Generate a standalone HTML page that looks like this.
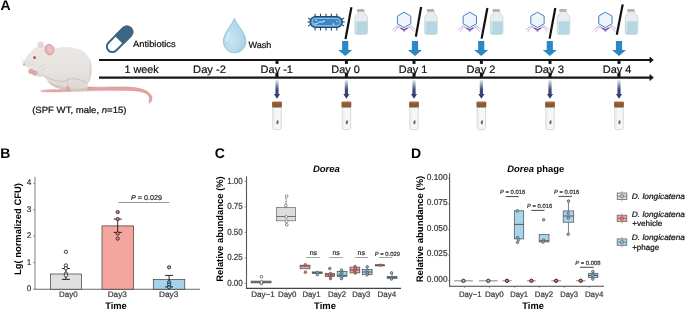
<!DOCTYPE html>
<html><head><meta charset="utf-8"><style>
html,body{margin:0;padding:0;background:#fff;}
svg{display:block;font-family:"Liberation Sans", sans-serif;text-rendering:geometricPrecision;will-change:transform;}
</style></head><body>
<svg width="685" height="309" viewBox="0 0 685 309">
<rect width="685" height="309" fill="#fff"/>
<text x="0.4" y="10.1" font-size="14" text-anchor="start" font-weight="bold" font-style="normal" fill="#000" >A</text>

<defs><linearGradient id="mb" gradientUnits="userSpaceOnUse" x1="0" y1="46" x2="0" y2="92"><stop offset="0" stop-color="#ebe8e6"/><stop offset="0.55" stop-color="#e6e2df"/><stop offset="1" stop-color="#dcd6d1"/></linearGradient></defs>
<g id="mouse">
 <path d="M86.5 87.0 C100 87.4 112 86.9 126 87.0 C140 87.3 150 90.5 151.8 96.8 C152.3 99.8 151.2 102.2 149.4 103.3 C148.6 102.6 149.6 100.2 149.4 97.6 C148.6 93.4 142 90.6 128 90.5 C114 90.2 100 90.3 86.5 90.8 Z" fill="#e2a3a1" stroke="#d08c8a" stroke-width="0.5"/>
 <path d="M23.3 63.8 C24.5 59 28 54 33 49.5 C35 47.8 37 46.5 39 46 L44 45.5 C48 44.5 53 45.5 56.5 48.3 C62 46.5 72 46.2 80 49.5 C88 53 92 62 91.6 71 C91.3 77 89.5 81 87.5 83.5 C88 86 87.5 89.5 85.5 91.2 L70 91.8 L62.5 89.2 C56 88 51 86 49 83 C46.5 79.5 44 76.5 42 75.5 C40 77 37 77 35.5 75.5 L34 72 C31 69 27.5 67.5 25 66.2 C23.8 65.6 23.1 64.8 23.3 63.8 Z" fill="url(#mb)"/>
 <path d="M89.6 57.5 C92 64 92.3 74 89.8 80 C89 81.8 88.3 82.8 87.5 83.5 C89.2 78 90.2 68 89.6 57.5 Z" fill="#d9d3cf"/>
 <path d="M48 81 C50 85.5 56 88 62.5 89.2 L70 91.8 L85.5 91.2 C86.6 90.2 87.3 88.8 87.8 86.8 C84 88.6 76 89.2 70.5 88.6 C64 86.6 54 85.2 48 81 Z" fill="#cfc8c2"/>
 <path d="M41 74.6 C46 77.5 53 80.5 60 81.3 C63 81.6 65.5 81.2 66.8 79.8 M66.8 79.8 C67.2 82.6 67.8 85.2 69 87.4 M66.8 79.8 C72 77.8 80 78.6 87.5 83.5" stroke="#cbc3bd" stroke-width="1" fill="none"/>
 <path d="M66.3 86.2 C67.8 85.8 69.2 86.8 69.8 88.2 L70.4 91.2 L66 90 Z" fill="#e2a3a1"/>
 <path d="M41 90.6 C44 89.4 58 89.2 66 89.5 L70.4 89.9 L70.6 91.6 C60 92.2 48 92 42 91.8 C40.8 91.6 40.6 91 41 90.6 Z" fill="#e3a8a6" stroke="#d39593" stroke-width="0.3"/>
 <path d="M38.5 67.5 C41 66.8 43.5 65.5 46.5 63.8 M40.2 69.8 C42.5 70.2 44.8 69.2 46.8 67.4" stroke="#d2cbc5" stroke-width="0.6" fill="none"/>
 <path d="M36 70 C39 70.5 42 72.5 44 75.5 C42.5 77.2 39 77.3 36.5 75.8 Z" fill="#e0dbd7"/>
 <ellipse cx="31" cy="71.4" rx="2.5" ry="2.3" fill="#e3a6a5" stroke="#d09190" stroke-width="0.4"/>
 <ellipse cx="34.6" cy="73.1" rx="2.5" ry="2.3" fill="#e3a6a5" stroke="#d09190" stroke-width="0.4"/>
 <ellipse cx="40.6" cy="44.6" rx="2.9" ry="2.7" fill="#e0dbd7" stroke="#cbc4be" stroke-width="0.5"/>
 <ellipse cx="49.4" cy="49.6" rx="4.4" ry="5.4" transform="rotate(-15 49.4 49.6)" fill="#e2b0af" stroke="#d5a09f" stroke-width="0.8"/>
 <ellipse cx="50" cy="49.4" rx="2.6" ry="3.6" transform="rotate(-15 50 49.4)" fill="#e9c0bf"/>
 <circle cx="34.6" cy="57.6" r="1.3" fill="#c8323a"/>
 <ellipse cx="24" cy="64.4" rx="1.2" ry="1.1" fill="#e2a2a2"/>
 <path d="M25 61 L20.6 57 M25 62 L20.6 59.5 M25.3 63 L21 61.8 M27 63.2 L35 62.4 M27 64.4 L36 65.4" stroke="#d0cbc7" stroke-width="0.35" fill="none"/>
</g>
<text x="32.2" y="113" font-size="9" text-anchor="start" font-weight="normal" font-style="normal" fill="#111" stroke="#111" stroke-width="0.22" textLength="94.3" lengthAdjust="spacingAndGlyphs" >(SPF WT, male, <tspan font-style="italic">n</tspan>=15)</text>
<g transform="translate(119.6 39.3) rotate(-45)">
 <path d="M-10.3 -5.5 H10.3 A5.5 5.5 0 0 1 10.3 5.5 H-10.3 A5.5 5.5 0 0 1 -10.3 -5.5 Z" fill="#fff" stroke="#3d6585" stroke-width="2"/>
 <path d="M0 -5.5 H10.3 A5.5 5.5 0 0 1 10.3 5.5 H0 Z" fill="#3d6585" stroke="#3d6585" stroke-width="2"/>
</g>
<text x="133" y="47.4" font-size="9" text-anchor="start" font-weight="normal" font-style="normal" fill="#111" stroke="#111" stroke-width="0.22" textLength="42.7" lengthAdjust="spacingAndGlyphs" >Antibiotics</text>
<defs>
 <radialGradient id="dg" cx="0.38" cy="0.62" r="0.6"><stop offset="0" stop-color="#c9e5f2"/><stop offset="1" stop-color="#a9d3e8"/></radialGradient>
 <linearGradient id="navy" x1="0" y1="0" x2="0" y2="1"><stop offset="0" stop-color="#34427a" stop-opacity="0.12"/><stop offset="0.5" stop-color="#2f3d72" stop-opacity="0.92"/><stop offset="1" stop-color="#2c3a6c"/></linearGradient>
</defs>
<path d="M234.4 18.3 C237 25.5 245.9 32.5 245.9 41.6 A11.25 11.25 0 0 1 223.4 41.6 C223.4 32.5 231.8 25.5 234.4 18.3 Z" fill="url(#dg)" stroke="#85bcd7" stroke-width="0.8"/>
<path d="M226.3 41 C226.3 36.5 228.5 32.5 231.2 29.5 C229.8 33 228 37 227.8 41 Z" fill="#e4f2f9" opacity="0.9"/>
<path d="M243.5 43.5 C243 48 239.5 51 235 51.5 C239.5 50 242 47 243.5 43.5 Z" fill="#9fcbe0" opacity="0.8"/>
<text x="248.4" y="47.7" font-size="9" text-anchor="start" font-weight="normal" font-style="normal" fill="#111" stroke="#111" stroke-width="0.22" textLength="22.9" lengthAdjust="spacingAndGlyphs" >Wash</text>
<line x1="99" y1="60.0" x2="651" y2="60.0" stroke="#161616" stroke-width="2.1"/>
<path d="M649.9 57.0 L653.4 60.0 L649.9 63.0 Z" fill="#161616" stroke="#161616" stroke-width="0.6" stroke-linejoin="round"/>
<line x1="99" y1="77.6" x2="651" y2="77.6" stroke="#161616" stroke-width="2.1"/>
<path d="M649.9 74.6 L653.4 77.6 L649.9 80.6 Z" fill="#161616" stroke="#161616" stroke-width="0.6" stroke-linejoin="round"/>
<text x="124.5" y="73" font-size="10.8" text-anchor="start" font-weight="normal" font-style="normal" fill="#111" stroke="#111" stroke-width="0.22" textLength="34.2" lengthAdjust="spacingAndGlyphs" >1 week</text>
<text x="193.1" y="73" font-size="10.8" text-anchor="start" font-weight="normal" font-style="normal" fill="#111" stroke="#111" stroke-width="0.22" textLength="32.8" lengthAdjust="spacingAndGlyphs" >Day -2</text>
<text x="260.6" y="73" font-size="10.8" text-anchor="start" font-weight="normal" font-style="normal" fill="#111" stroke="#111" stroke-width="0.22" textLength="32.4" lengthAdjust="spacingAndGlyphs" >Day -1</text>
<text x="331.3" y="73" font-size="10.8" text-anchor="start" font-weight="normal" font-style="normal" fill="#111" stroke="#111" stroke-width="0.22" textLength="28.4" lengthAdjust="spacingAndGlyphs" >Day 0</text>
<text x="398.8" y="73" font-size="10.8" text-anchor="start" font-weight="normal" font-style="normal" fill="#111" stroke="#111" stroke-width="0.22" textLength="28.4" lengthAdjust="spacingAndGlyphs" >Day 1</text>
<text x="466.6" y="73" font-size="10.8" text-anchor="start" font-weight="normal" font-style="normal" fill="#111" stroke="#111" stroke-width="0.22" textLength="28.9" lengthAdjust="spacingAndGlyphs" >Day 2</text>
<text x="534.7" y="73" font-size="10.8" text-anchor="start" font-weight="normal" font-style="normal" fill="#111" stroke="#111" stroke-width="0.22" textLength="29.2" lengthAdjust="spacingAndGlyphs" >Day 3</text>
<text x="602.8" y="73" font-size="10.8" text-anchor="start" font-weight="normal" font-style="normal" fill="#111" stroke="#111" stroke-width="0.22" textLength="28.6" lengthAdjust="spacingAndGlyphs" >Day 4</text>
<rect x="275.5" y="60.5" width="3" height="3.4" fill="#161616"/>
<rect x="275.5" y="72.6" width="3" height="4.5" fill="#161616"/>
<path d="M275.4 80 H278.6 V93.9 H280.1 L277.0 98.7 L273.9 93.9 H275.4 Z" fill="url(#navy)"/>
<path d="M272.8 107 V127.6 Q272.8 129.6 274.8 129.6 H279.2 Q281.2 129.6 281.2 127.6 V107 Z" fill="#f5f7f8" stroke="#c4cbd0" stroke-width="0.7"/>
<line x1="274.4" y1="109" x2="274.4" y2="127" stroke="#e6eaec" stroke-width="0.7"/>
<rect x="272.1" y="101.8" width="9.8" height="5.8" rx="1.1" fill="#8b5a34"/>
<rect x="272.1" y="101.8" width="9.8" height="1.5" rx="0.7" fill="#9c6a43"/>
<ellipse cx="277.5" cy="122.3" rx="1.05" ry="2.1" transform="rotate(12 277.5 122.3)" fill="#8a5a3b"/>
<rect x="344.9" y="60.5" width="3" height="3.4" fill="#161616"/>
<rect x="344.9" y="72.6" width="3" height="4.5" fill="#161616"/>
<path d="M344.79999999999995 80 H348.0 V93.9 H349.5 L346.4 98.7 L343.29999999999995 93.9 H344.79999999999995 Z" fill="url(#navy)"/>
<path d="M342.2 107 V127.6 Q342.2 129.6 344.2 129.6 H348.6 Q350.6 129.6 350.6 127.6 V107 Z" fill="#f5f7f8" stroke="#c4cbd0" stroke-width="0.7"/>
<line x1="343.8" y1="109" x2="343.8" y2="127" stroke="#e6eaec" stroke-width="0.7"/>
<rect x="341.5" y="101.8" width="9.8" height="5.8" rx="1.1" fill="#8b5a34"/>
<rect x="341.5" y="101.8" width="9.8" height="1.5" rx="0.7" fill="#9c6a43"/>
<ellipse cx="346.9" cy="122.3" rx="1.05" ry="2.1" transform="rotate(12 346.9 122.3)" fill="#8a5a3b"/>
<rect x="412.5" y="60.5" width="3" height="3.4" fill="#161616"/>
<rect x="412.5" y="72.6" width="3" height="4.5" fill="#161616"/>
<path d="M412.4 80 H415.6 V93.9 H417.1 L414.0 98.7 L410.9 93.9 H412.4 Z" fill="url(#navy)"/>
<path d="M409.8 107 V127.6 Q409.8 129.6 411.8 129.6 H416.2 Q418.2 129.6 418.2 127.6 V107 Z" fill="#f5f7f8" stroke="#c4cbd0" stroke-width="0.7"/>
<line x1="411.4" y1="109" x2="411.4" y2="127" stroke="#e6eaec" stroke-width="0.7"/>
<rect x="409.1" y="101.8" width="9.8" height="5.8" rx="1.1" fill="#8b5a34"/>
<rect x="409.1" y="101.8" width="9.8" height="1.5" rx="0.7" fill="#9c6a43"/>
<ellipse cx="414.5" cy="122.3" rx="1.05" ry="2.1" transform="rotate(12 414.5 122.3)" fill="#8a5a3b"/>
<rect x="479.9" y="60.5" width="3" height="3.4" fill="#161616"/>
<rect x="479.9" y="72.6" width="3" height="4.5" fill="#161616"/>
<path d="M479.79999999999995 80 H483.0 V93.9 H484.5 L481.4 98.7 L478.29999999999995 93.9 H479.79999999999995 Z" fill="url(#navy)"/>
<path d="M477.2 107 V127.6 Q477.2 129.6 479.2 129.6 H483.6 Q485.6 129.6 485.6 127.6 V107 Z" fill="#f5f7f8" stroke="#c4cbd0" stroke-width="0.7"/>
<line x1="478.8" y1="109" x2="478.8" y2="127" stroke="#e6eaec" stroke-width="0.7"/>
<rect x="476.5" y="101.8" width="9.8" height="5.8" rx="1.1" fill="#8b5a34"/>
<rect x="476.5" y="101.8" width="9.8" height="1.5" rx="0.7" fill="#9c6a43"/>
<ellipse cx="481.9" cy="122.3" rx="1.05" ry="2.1" transform="rotate(12 481.9 122.3)" fill="#8a5a3b"/>
<rect x="548.5" y="60.5" width="3" height="3.4" fill="#161616"/>
<rect x="548.5" y="72.6" width="3" height="4.5" fill="#161616"/>
<path d="M548.4 80 H551.6 V93.9 H553.1 L550.0 98.7 L546.9 93.9 H548.4 Z" fill="url(#navy)"/>
<path d="M545.8 107 V127.6 Q545.8 129.6 547.8 129.6 H552.2 Q554.2 129.6 554.2 127.6 V107 Z" fill="#f5f7f8" stroke="#c4cbd0" stroke-width="0.7"/>
<line x1="547.4" y1="109" x2="547.4" y2="127" stroke="#e6eaec" stroke-width="0.7"/>
<rect x="545.1" y="101.8" width="9.8" height="5.8" rx="1.1" fill="#8b5a34"/>
<rect x="545.1" y="101.8" width="9.8" height="1.5" rx="0.7" fill="#9c6a43"/>
<ellipse cx="550.5" cy="122.3" rx="1.05" ry="2.1" transform="rotate(12 550.5 122.3)" fill="#8a5a3b"/>
<rect x="617.5" y="60.5" width="3" height="3.4" fill="#161616"/>
<rect x="617.5" y="72.6" width="3" height="4.5" fill="#161616"/>
<path d="M617.4 80 H620.6 V93.9 H622.1 L619.0 98.7 L615.9 93.9 H617.4 Z" fill="url(#navy)"/>
<path d="M614.8 107 V127.6 Q614.8 129.6 616.8 129.6 H621.2 Q623.2 129.6 623.2 127.6 V107 Z" fill="#f5f7f8" stroke="#c4cbd0" stroke-width="0.7"/>
<line x1="616.4" y1="109" x2="616.4" y2="127" stroke="#e6eaec" stroke-width="0.7"/>
<rect x="614.1" y="101.8" width="9.8" height="5.8" rx="1.1" fill="#8b5a34"/>
<rect x="614.1" y="101.8" width="9.8" height="1.5" rx="0.7" fill="#9c6a43"/>
<ellipse cx="619.5" cy="122.3" rx="1.05" ry="2.1" transform="rotate(12 619.5 122.3)" fill="#8a5a3b"/>
<path d="M342.1 41 H348.3 V50.1 H352.2 L345.2 55.9 L338.2 50.1 H342.1 Z" fill="#2c87c7"/>
<line x1="351.4" y1="7.3" x2="345.5" y2="39.1" stroke="#111" stroke-width="2.2"/>
<g>
 <path d="M357.8 11.4 V14 Q354.9 14.8 354.9 17.6 V32.6 Q354.9 34.5 356.8 34.5 H365.6 Q367.5 34.5 367.5 32.6 V17.6 Q367.5 14.8 364.6 14 V11.4 Z" fill="#e9edef" stroke="#c3cacf" stroke-width="0.6"/>
 <path d="M355.2 21.3 H367.2 V32.6 Q367.2 34.2 365.6 34.2 H356.8 Q355.2 34.2 355.2 32.6 Z" fill="#b4d8e2"/>
 <line x1="356.2" y1="18" x2="356.2" y2="32" stroke="#f4f7f8" stroke-width="0.6" opacity="0.8"/>
 <rect x="357.0" y="9.1" width="7.3" height="2.7" rx="0.8" fill="#b0b3b5"/>
</g>
<path d="M411.9 41 H418.1 V50.1 H422.0 L415.0 55.9 L408.0 50.1 H411.9 Z" fill="#2c87c7"/>
<line x1="421.1" y1="7.0" x2="415.9" y2="36.6" stroke="#111" stroke-width="2.2"/>
<g>
 <path d="M427.6 11.4 V14 Q424.7 14.8 424.7 17.6 V32.6 Q424.7 34.5 426.6 34.5 H435.4 Q437.3 34.5 437.3 32.6 V17.6 Q437.3 14.8 434.4 14 V11.4 Z" fill="#e9edef" stroke="#c3cacf" stroke-width="0.6"/>
 <path d="M425.0 21.3 H437.0 V32.6 Q437.0 34.2 435.4 34.2 H426.6 Q425.0 34.2 425.0 32.6 Z" fill="#b4d8e2"/>
 <line x1="426.0" y1="18" x2="426.0" y2="32" stroke="#f4f7f8" stroke-width="0.6" opacity="0.8"/>
 <rect x="426.8" y="9.1" width="7.3" height="2.7" rx="0.8" fill="#b0b3b5"/>
</g>
<g>
 <path d="M402.6 28.9 L397.5 25.6 L392.3 30.0 M402.6 29.5 L397.8 26.9 L394.3 31.9 M405.6 28.9 L410.7 25.6 L415.9 30.0 M405.6 29.5 L410.4 26.9 L413.9 31.9" stroke="#b39ad0" stroke-width="0.7" fill="none"/>
 <path d="M402.5 29.9 L405.7 29.9 L404.1 32.4 Z" fill="#86a6dc"/>
 <path d="M404.1 12.2 L410.77 16.05 L410.77 23.75 L404.1 27.6 L397.43 23.75 L397.43 16.05 Z" fill="#eef4fb" stroke="#3d78c6" stroke-width="0.95"/>
 <path d="M400.8 28.1 L404.1 29.8 L407.4 28.1" stroke="#8a3a9f" stroke-width="1.4" fill="none"/>
</g>
<path d="M478.1 41 H484.3 V50.1 H488.2 L481.2 55.9 L474.2 50.1 H478.1 Z" fill="#2c87c7"/>
<line x1="487.4" y1="8.0" x2="481.6" y2="38.6" stroke="#111" stroke-width="2.2"/>
<g>
 <path d="M493.3 11.4 V14 Q490.4 14.8 490.4 17.6 V32.6 Q490.4 34.5 492.3 34.5 H501.1 Q503.0 34.5 503.0 32.6 V17.6 Q503.0 14.8 500.1 14 V11.4 Z" fill="#e9edef" stroke="#c3cacf" stroke-width="0.6"/>
 <path d="M490.7 21.3 H502.7 V32.6 Q502.7 34.2 501.1 34.2 H492.3 Q490.7 34.2 490.7 32.6 Z" fill="#b4d8e2"/>
 <line x1="491.7" y1="18" x2="491.7" y2="32" stroke="#f4f7f8" stroke-width="0.6" opacity="0.8"/>
 <rect x="492.5" y="9.1" width="7.3" height="2.7" rx="0.8" fill="#b0b3b5"/>
</g>
<g>
 <path d="M468.3 28.9 L463.2 25.6 L458.0 30.0 M468.3 29.5 L463.5 26.9 L460.0 31.9 M471.3 28.9 L476.4 25.6 L481.6 30.0 M471.3 29.5 L476.1 26.9 L479.6 31.9" stroke="#b39ad0" stroke-width="0.7" fill="none"/>
 <path d="M468.2 29.9 L471.4 29.9 L469.8 32.4 Z" fill="#86a6dc"/>
 <path d="M469.8 12.2 L476.47 16.05 L476.47 23.75 L469.8 27.6 L463.13 23.75 L463.13 16.05 Z" fill="#eef4fb" stroke="#3d78c6" stroke-width="0.95"/>
 <path d="M466.5 28.1 L469.8 29.8 L473.1 28.1" stroke="#8a3a9f" stroke-width="1.4" fill="none"/>
</g>
<path d="M546.7 41 H552.9 V50.1 H556.8 L549.8 55.9 L542.8 50.1 H546.7 Z" fill="#2c87c7"/>
<line x1="555.3" y1="8.0" x2="549.6" y2="38.6" stroke="#111" stroke-width="2.2"/>
<g>
 <path d="M560.1 11.4 V14 Q557.2 14.8 557.2 17.6 V32.6 Q557.2 34.5 559.1 34.5 H567.9 Q569.8 34.5 569.8 32.6 V17.6 Q569.8 14.8 566.9 14 V11.4 Z" fill="#e9edef" stroke="#c3cacf" stroke-width="0.6"/>
 <path d="M557.5 21.3 H569.5 V32.6 Q569.5 34.2 567.9 34.2 H559.1 Q557.5 34.2 557.5 32.6 Z" fill="#b4d8e2"/>
 <line x1="558.5" y1="18" x2="558.5" y2="32" stroke="#f4f7f8" stroke-width="0.6" opacity="0.8"/>
 <rect x="559.3" y="9.1" width="7.3" height="2.7" rx="0.8" fill="#b0b3b5"/>
</g>
<g>
 <path d="M536.0 28.9 L530.9 25.6 L525.7 30.0 M536.0 29.5 L531.2 26.9 L527.7 31.9 M539.0 28.9 L544.1 25.6 L549.3 30.0 M539.0 29.5 L543.8 26.9 L547.3 31.9" stroke="#b39ad0" stroke-width="0.7" fill="none"/>
 <path d="M535.9 29.9 L539.1 29.9 L537.5 32.4 Z" fill="#86a6dc"/>
 <path d="M537.5 12.2 L544.17 16.05 L544.17 23.75 L537.5 27.6 L530.83 23.75 L530.83 16.05 Z" fill="#eef4fb" stroke="#3d78c6" stroke-width="0.95"/>
 <path d="M534.2 28.1 L537.5 29.8 L540.8 28.1" stroke="#8a3a9f" stroke-width="1.4" fill="none"/>
</g>
<path d="M615.9 41 H622.1 V50.1 H626.0 L619.0 55.9 L612.0 50.1 H615.9 Z" fill="#2c87c7"/>
<line x1="622.7" y1="4.4" x2="616.8" y2="34.7" stroke="#111" stroke-width="2.2"/>
<g>
 <path d="M628.1 11.4 V14 Q625.2 14.8 625.2 17.6 V32.6 Q625.2 34.5 627.1 34.5 H635.9 Q637.8 34.5 637.8 32.6 V17.6 Q637.8 14.8 634.9 14 V11.4 Z" fill="#e9edef" stroke="#c3cacf" stroke-width="0.6"/>
 <path d="M625.5 21.3 H637.5 V32.6 Q637.5 34.2 635.9 34.2 H627.1 Q625.5 34.2 625.5 32.6 Z" fill="#b4d8e2"/>
 <line x1="626.5" y1="18" x2="626.5" y2="32" stroke="#f4f7f8" stroke-width="0.6" opacity="0.8"/>
 <rect x="627.3" y="9.1" width="7.3" height="2.7" rx="0.8" fill="#b0b3b5"/>
</g>
<g>
 <path d="M603.9 28.9 L598.8 25.6 L593.6 30.0 M603.9 29.5 L599.1 26.9 L595.6 31.9 M606.9 28.9 L612.0 25.6 L617.2 30.0 M606.9 29.5 L611.7 26.9 L615.2 31.9" stroke="#b39ad0" stroke-width="0.7" fill="none"/>
 <path d="M603.8 29.9 L607.0 29.9 L605.4 32.4 Z" fill="#86a6dc"/>
 <path d="M605.4 12.2 L612.07 16.05 L612.07 23.75 L605.4 27.6 L598.73 23.75 L598.73 16.05 Z" fill="#eef4fb" stroke="#3d78c6" stroke-width="0.95"/>
 <path d="M602.1 28.1 L605.4 29.8 L608.7 28.1" stroke="#8a3a9f" stroke-width="1.4" fill="none"/>
</g>
<g>
 <g stroke="#1f4a6e" stroke-width="1.1">
  <path d="M315.1 13.8 V17 M320.5 13.8 V17 M326 13.8 V17 M331.4 13.8 V17 M336.8 13.8 V17"/>
  <path d="M315.1 27 V30.4 M320.5 27 V30.4 M326 27 V30.4 M331.4 27 V30.4 M336.8 27 V30.4"/>
  <path d="M307.5 22 H310.5 M308.2 18 L310.8 19.6 M308.2 26 L310.8 24.4 M341.8 22 H344.8 M344.1 18 L341.5 19.6 M344.1 26 L341.5 24.4"/>
 </g>
 <rect x="310" y="16.6" width="32.3" height="10.9" rx="5.45" fill="#3a87c6" stroke="#1f4a6e" stroke-width="1.2"/>
 <rect x="312" y="18.4" width="28.3" height="7.3" rx="3.65" fill="none" stroke="#dbeaf5" stroke-width="0.6"/>
 <path d="M313.5 23.2 C315 24.8 317 24 318.5 22.5 C320 21 321.5 22.8 323 21.8 C324 21.2 324.3 20.8 325 20.6" stroke="#fff" stroke-width="0.9" fill="none"/>
 <circle cx="316.3" cy="20.3" r="0.7" fill="#fff"/>
 <circle cx="333.5" cy="24" r="0.85" fill="#fff"/>
 <circle cx="337" cy="21.3" r="0.65" fill="#fff"/>
</g>
<text x="0.2" y="158.0" font-size="14" text-anchor="start" font-weight="bold" font-style="normal" fill="#000" >B</text>
<line x1="35" y1="176.8" x2="35" y2="289.4" stroke="#8a8a8a" stroke-width="1.1"/>
<line x1="34.5" y1="289.2" x2="200" y2="289.2" stroke="#6a6a6a" stroke-width="1.1"/>
<text x="31.3" y="185.3" font-size="8.2" text-anchor="end" font-weight="normal" font-style="normal" fill="#3a3a3a" stroke="#3a3a3a" stroke-width="0.22" >4</text>
<line x1="33" y1="183.3" x2="35" y2="183.3" stroke="#666" stroke-width="0.6"/>
<text x="31.3" y="211.8" font-size="8.2" text-anchor="end" font-weight="normal" font-style="normal" fill="#3a3a3a" stroke="#3a3a3a" stroke-width="0.22" >3</text>
<line x1="33" y1="209.8" x2="35" y2="209.8" stroke="#666" stroke-width="0.6"/>
<text x="31.3" y="238.2" font-size="8.2" text-anchor="end" font-weight="normal" font-style="normal" fill="#3a3a3a" stroke="#3a3a3a" stroke-width="0.22" >2</text>
<line x1="33" y1="236.2" x2="35" y2="236.2" stroke="#666" stroke-width="0.6"/>
<text x="31.3" y="264.7" font-size="8.2" text-anchor="end" font-weight="normal" font-style="normal" fill="#3a3a3a" stroke="#3a3a3a" stroke-width="0.22" >1</text>
<line x1="33" y1="262.7" x2="35" y2="262.7" stroke="#666" stroke-width="0.6"/>
<text x="31.3" y="291.2" font-size="8.2" text-anchor="end" font-weight="normal" font-style="normal" fill="#3a3a3a" stroke="#3a3a3a" stroke-width="0.22" >0</text>
<line x1="33" y1="289.2" x2="35" y2="289.2" stroke="#666" stroke-width="0.6"/>
<text transform="translate(20.5 229.1) rotate(-90)" text-anchor="middle" font-size="9.4" font-weight="bold" textLength="92" lengthAdjust="spacingAndGlyphs">Lg( normalized CFU)</text>
<rect x="50.4" y="274.0" width="31.1" height="15.2" fill="#e0e0e0" stroke="#3a3a3a" stroke-width="0.7"/>
<rect x="102" y="225.9" width="31.5" height="63.3" fill="#f4a59d" stroke="#3a3a3a" stroke-width="0.7"/>
<rect x="153.3" y="279.6" width="31.5" height="9.6" fill="#a7d3ea" stroke="#3a3a3a" stroke-width="0.7"/>
<path d="M65.9 268.5 V279.4 M61.900000000000006 268.5 H69.9 M61.900000000000006 279.4 H69.9" stroke="#111" stroke-width="0.9" fill="none"/>
<path d="M117.7 219.1 V232.4 M113.7 219.1 H121.7 M113.7 232.4 H121.7" stroke="#111" stroke-width="0.9" fill="none"/>
<path d="M169.1 275.4 V286.9 M165.1 275.4 H173.1 M165.1 286.9 H173.1" stroke="#111" stroke-width="0.9" fill="none"/>
<circle cx="65.9" cy="251.8" r="1.65" fill="#fff" stroke="#262626" stroke-width="0.85"/>
<circle cx="65.9" cy="265.4" r="1.65" fill="#fff" stroke="#262626" stroke-width="0.85"/>
<circle cx="65.9" cy="268.3" r="1.65" fill="#fff" stroke="#262626" stroke-width="0.85"/>
<circle cx="65.9" cy="273.6" r="1.65" fill="#fff" stroke="#262626" stroke-width="0.85"/>
<circle cx="65.9" cy="275.4" r="1.65" fill="#fff" stroke="#262626" stroke-width="0.85"/>
<circle cx="117.7" cy="212.1" r="1.65" fill="#e8817a" stroke="#262626" stroke-width="0.85"/>
<circle cx="117.7" cy="219.1" r="1.65" fill="#e8817a" stroke="#262626" stroke-width="0.85"/>
<circle cx="117.7" cy="233.5" r="1.65" fill="#e8817a" stroke="#262626" stroke-width="0.85"/>
<circle cx="117.7" cy="238.6" r="1.65" fill="#e8817a" stroke="#262626" stroke-width="0.85"/>
<circle cx="169.1" cy="267.3" r="1.65" fill="#7dbfe2" stroke="#262626" stroke-width="0.85"/>
<circle cx="169.1" cy="282.3" r="1.65" fill="#7dbfe2" stroke="#262626" stroke-width="0.85"/>
<circle cx="169.1" cy="284.6" r="1.65" fill="#7dbfe2" stroke="#262626" stroke-width="0.85"/>
<circle cx="169.1" cy="287.3" r="1.65" fill="#7dbfe2" stroke="#262626" stroke-width="0.85"/>
<line x1="118.4" y1="202.5" x2="169.3" y2="202.5" stroke="#8a8a8a" stroke-width="0.9"/>
<text x="131" y="200.4" font-size="7" text-anchor="start" font-weight="normal" font-style="normal" fill="#333" stroke="#333" stroke-width="0.22" textLength="31" lengthAdjust="spacingAndGlyphs" ><tspan font-style="italic">P</tspan> = 0.029</text>
<text x="59.1" y="297" font-size="8" text-anchor="start" font-weight="normal" font-style="normal" fill="#3a3a3a" stroke="#3a3a3a" stroke-width="0.22" textLength="18.5" lengthAdjust="spacingAndGlyphs" >Day0</text>
<text x="107.7" y="297" font-size="8" text-anchor="start" font-weight="normal" font-style="normal" fill="#3a3a3a" stroke="#3a3a3a" stroke-width="0.22" textLength="19.2" lengthAdjust="spacingAndGlyphs" >Day3</text>
<text x="159" y="297" font-size="8" text-anchor="start" font-weight="normal" font-style="normal" fill="#3a3a3a" stroke="#3a3a3a" stroke-width="0.22" textLength="19.3" lengthAdjust="spacingAndGlyphs" >Day3</text>
<text x="105.2" y="309.2" font-size="9.6" text-anchor="start" font-weight="bold" font-style="normal" fill="#000" textLength="21.5" lengthAdjust="spacingAndGlyphs" >Time</text>
<text x="214.8" y="158.3" font-size="14" text-anchor="start" font-weight="bold" font-style="normal" fill="#000" >C</text>
<text x="312.9" y="171.6" font-size="9.5" text-anchor="start" font-weight="bold" font-style="italic" fill="#000" textLength="27.0" lengthAdjust="spacingAndGlyphs" >Dorea</text>
<line x1="246.5" y1="176.3" x2="246.5" y2="288.9" stroke="#555" stroke-width="1.1"/>
<line x1="246" y1="288.4" x2="401" y2="288.4" stroke="#444" stroke-width="1.1"/>
<text x="227.2" y="183.7" font-size="8.8" text-anchor="start" font-weight="normal" font-style="normal" fill="#3a3a3a" stroke="#3a3a3a" stroke-width="0.22" textLength="15.6" lengthAdjust="spacingAndGlyphs" >1.00</text>
<line x1="244.6" y1="181.5" x2="246" y2="181.5" stroke="#555" stroke-width="0.6"/>
<text x="227.2" y="209.2" font-size="8.8" text-anchor="start" font-weight="normal" font-style="normal" fill="#3a3a3a" stroke="#3a3a3a" stroke-width="0.22" textLength="15.6" lengthAdjust="spacingAndGlyphs" >0.75</text>
<line x1="244.6" y1="207.0" x2="246" y2="207.0" stroke="#555" stroke-width="0.6"/>
<text x="227.2" y="234.6" font-size="8.8" text-anchor="start" font-weight="normal" font-style="normal" fill="#3a3a3a" stroke="#3a3a3a" stroke-width="0.22" textLength="15.6" lengthAdjust="spacingAndGlyphs" >0.50</text>
<line x1="244.6" y1="232.4" x2="246" y2="232.4" stroke="#555" stroke-width="0.6"/>
<text x="227.2" y="260.1" font-size="8.8" text-anchor="start" font-weight="normal" font-style="normal" fill="#3a3a3a" stroke="#3a3a3a" stroke-width="0.22" textLength="15.6" lengthAdjust="spacingAndGlyphs" >0.25</text>
<line x1="244.6" y1="257.9" x2="246" y2="257.9" stroke="#555" stroke-width="0.6"/>
<text x="227.2" y="285.6" font-size="8.8" text-anchor="start" font-weight="normal" font-style="normal" fill="#3a3a3a" stroke="#3a3a3a" stroke-width="0.22" textLength="15.6" lengthAdjust="spacingAndGlyphs" >0.00</text>
<line x1="244.6" y1="283.4" x2="246" y2="283.4" stroke="#555" stroke-width="0.6"/>
<text transform="translate(223.3 229) rotate(-90)" text-anchor="middle" font-size="9.5" font-weight="bold" textLength="105.5" lengthAdjust="spacingAndGlyphs">Relative abundance (%)</text>
<line x1="261.4" y1="288.2" x2="261.4" y2="290" stroke="#666" stroke-width="0.6"/>
<line x1="286.3" y1="288.2" x2="286.3" y2="290" stroke="#666" stroke-width="0.6"/>
<line x1="311.2" y1="288.2" x2="311.2" y2="290" stroke="#666" stroke-width="0.6"/>
<line x1="336.1" y1="288.2" x2="336.1" y2="290" stroke="#666" stroke-width="0.6"/>
<line x1="361" y1="288.2" x2="361" y2="290" stroke="#666" stroke-width="0.6"/>
<line x1="385.9" y1="288.2" x2="385.9" y2="290" stroke="#666" stroke-width="0.6"/>
<text x="251.2" y="296.8" font-size="8" text-anchor="start" font-weight="normal" font-style="normal" fill="#3a3a3a" stroke="#3a3a3a" stroke-width="0.22" textLength="23.5" lengthAdjust="spacingAndGlyphs" >Day−1</text>
<text x="278" y="296.8" font-size="8" text-anchor="start" font-weight="normal" font-style="normal" fill="#3a3a3a" stroke="#3a3a3a" stroke-width="0.22" textLength="18.5" lengthAdjust="spacingAndGlyphs" >Day0</text>
<text x="302.5" y="296.8" font-size="8" text-anchor="start" font-weight="normal" font-style="normal" fill="#3a3a3a" stroke="#3a3a3a" stroke-width="0.22" textLength="18.0" lengthAdjust="spacingAndGlyphs" >Day1</text>
<text x="327.9" y="296.8" font-size="8" text-anchor="start" font-weight="normal" font-style="normal" fill="#3a3a3a" stroke="#3a3a3a" stroke-width="0.22" textLength="18.2" lengthAdjust="spacingAndGlyphs" >Day2</text>
<text x="352.2" y="296.8" font-size="8" text-anchor="start" font-weight="normal" font-style="normal" fill="#3a3a3a" stroke="#3a3a3a" stroke-width="0.22" textLength="18.2" lengthAdjust="spacingAndGlyphs" >Day3</text>
<text x="377.6" y="296.8" font-size="8" text-anchor="start" font-weight="normal" font-style="normal" fill="#3a3a3a" stroke="#3a3a3a" stroke-width="0.22" textLength="18.5" lengthAdjust="spacingAndGlyphs" >Day4</text>
<text x="314.1" y="309.2" font-size="9.6" text-anchor="start" font-weight="bold" font-style="normal" fill="#000" textLength="21.8" lengthAdjust="spacingAndGlyphs" >Time</text>
<path d="M261.10 282.8 V281.2 M261.10 282.8 V281.2" stroke="#555" stroke-width="0.9" fill="none"/>
<rect x="251.2" y="281.2" width="19.80" height="1.60" fill="#dcdcdc" stroke="#555" stroke-width="0.9"/>
<line x1="251.2" y1="282" x2="271" y2="282" stroke="#555" stroke-width="1.17"/>
<circle cx="261.4" cy="276.7" r="1.4" fill="#fff" stroke="#555" stroke-width="0.8"/>
<circle cx="261.4" cy="283.7" r="1.4" fill="#fff" stroke="#555" stroke-width="0.8"/>
<circle cx="261.4" cy="282" r="1.4" fill="#fff" stroke="#555" stroke-width="0.8"/>
<path d="M286.05 196.5 V207.5 M286.05 220.8 V224.7" stroke="#666" stroke-width="0.7" fill="none"/>
<rect x="276.5" y="207.5" width="19.10" height="13.30" fill="#dcdcdc" stroke="#666" stroke-width="0.7"/>
<line x1="276.5" y1="216.5" x2="295.6" y2="216.5" stroke="#666" stroke-width="0.91"/>
<circle cx="286.6" cy="196.2" r="1.35" fill="#fff" stroke="#666" stroke-width="0.7"/>
<circle cx="285.8" cy="205.5" r="1.35" fill="#fff" stroke="#666" stroke-width="0.7"/>
<circle cx="286.2" cy="216.9" r="1.35" fill="#fff" stroke="#666" stroke-width="0.7"/>
<circle cx="286.6" cy="221.3" r="1.35" fill="#fff" stroke="#666" stroke-width="0.7"/>
<circle cx="286.8" cy="224.9" r="1.35" fill="#fff" stroke="#666" stroke-width="0.7"/>
<path d="M305.05 265.2 V265.2 M305.05 268.8 V268.8" stroke="#4a4a4a" stroke-width="0.7" fill="none"/>
<rect x="300.1" y="265.2" width="9.90" height="3.60" fill="#f4a49c" stroke="#4a4a4a" stroke-width="0.7"/>
<line x1="300.1" y1="266.1" x2="310" y2="266.1" stroke="#4a4a4a" stroke-width="0.91"/>
<circle cx="305.4" cy="264.8" r="1.3" fill="#ee6e63" stroke="#555" stroke-width="0.75"/>
<circle cx="305.4" cy="272.2" r="1.3" fill="#ee6e63" stroke="#555" stroke-width="0.75"/>
<path d="M317.20 271.5 V271.9 M317.20 273.6 V274" stroke="#4a4a4a" stroke-width="0.7" fill="none"/>
<rect x="312.2" y="271.9" width="10.00" height="1.70" fill="#a9d5ec" stroke="#4a4a4a" stroke-width="0.7"/>
<line x1="312.2" y1="272.6" x2="322.2" y2="272.6" stroke="#4a4a4a" stroke-width="0.91"/>
<circle cx="317.4" cy="272.5" r="1.3" fill="#78c3ea" stroke="#555" stroke-width="0.75"/>
<circle cx="317.4" cy="274.6" r="1.3" fill="#78c3ea" stroke="#555" stroke-width="0.75"/>
<path d="M329.90 273.3 V273.3 M329.90 276.5 V278.8" stroke="#4a4a4a" stroke-width="0.7" fill="none"/>
<rect x="325.2" y="273.3" width="9.40" height="3.20" fill="#f4a49c" stroke="#4a4a4a" stroke-width="0.7"/>
<line x1="325.2" y1="274.8" x2="334.6" y2="274.8" stroke="#4a4a4a" stroke-width="0.91"/>
<circle cx="329.8" cy="268.5" r="1.3" fill="#ee6e63" stroke="#555" stroke-width="0.75"/>
<circle cx="330.5" cy="273.5" r="1.3" fill="#ee6e63" stroke="#555" stroke-width="0.75"/>
<circle cx="331" cy="276" r="1.3" fill="#ee6e63" stroke="#555" stroke-width="0.75"/>
<circle cx="330.5" cy="278.6" r="1.3" fill="#ee6e63" stroke="#555" stroke-width="0.75"/>
<circle cx="329.5" cy="275" r="1.3" fill="#ee6e63" stroke="#555" stroke-width="0.75"/>
<path d="M342.05 270 V271.4 M342.05 276.5 V279.3" stroke="#4a4a4a" stroke-width="0.7" fill="none"/>
<rect x="337.2" y="271.4" width="9.70" height="5.10" fill="#a9d5ec" stroke="#4a4a4a" stroke-width="0.7"/>
<line x1="337.2" y1="275.3" x2="346.9" y2="275.3" stroke="#4a4a4a" stroke-width="0.91"/>
<circle cx="341.5" cy="270.2" r="1.3" fill="#78c3ea" stroke="#555" stroke-width="0.75"/>
<circle cx="342" cy="272.5" r="1.3" fill="#78c3ea" stroke="#555" stroke-width="0.75"/>
<circle cx="341" cy="274" r="1.3" fill="#78c3ea" stroke="#555" stroke-width="0.75"/>
<circle cx="342" cy="276.5" r="1.3" fill="#78c3ea" stroke="#555" stroke-width="0.75"/>
<circle cx="341.5" cy="278.6" r="1.3" fill="#78c3ea" stroke="#555" stroke-width="0.75"/>
<path d="M354.90 266.3 V267.1 M354.90 272.9 V273.5" stroke="#4a4a4a" stroke-width="0.7" fill="none"/>
<rect x="350" y="267.1" width="9.80" height="5.80" fill="#f4a49c" stroke="#4a4a4a" stroke-width="0.7"/>
<line x1="350" y1="269.9" x2="359.8" y2="269.9" stroke="#4a4a4a" stroke-width="0.91"/>
<circle cx="355" cy="266.6" r="1.3" fill="#ee6e63" stroke="#555" stroke-width="0.75"/>
<circle cx="355.5" cy="268.8" r="1.3" fill="#ee6e63" stroke="#555" stroke-width="0.75"/>
<circle cx="354.5" cy="271" r="1.3" fill="#ee6e63" stroke="#555" stroke-width="0.75"/>
<circle cx="355.3" cy="273" r="1.3" fill="#ee6e63" stroke="#555" stroke-width="0.75"/>
<path d="M367.20 266.9 V269.4 M367.20 274.7 V275.2" stroke="#4a4a4a" stroke-width="0.7" fill="none"/>
<rect x="362.3" y="269.4" width="9.80" height="5.30" fill="#a9d5ec" stroke="#4a4a4a" stroke-width="0.7"/>
<line x1="362.3" y1="272" x2="372.1" y2="272" stroke="#4a4a4a" stroke-width="0.91"/>
<circle cx="367.2" cy="266.8" r="1.3" fill="#78c3ea" stroke="#555" stroke-width="0.75"/>
<circle cx="367" cy="270.5" r="1.3" fill="#78c3ea" stroke="#555" stroke-width="0.75"/>
<circle cx="367.5" cy="273" r="1.3" fill="#78c3ea" stroke="#555" stroke-width="0.75"/>
<circle cx="367" cy="274.8" r="1.3" fill="#78c3ea" stroke="#555" stroke-width="0.75"/>
<path d="M379.90 264.7 V264.7 M379.90 265.9 V265.9" stroke="#4a4a4a" stroke-width="0.7" fill="none"/>
<rect x="375.3" y="264.7" width="9.20" height="1.20" fill="#f4a49c" stroke="#4a4a4a" stroke-width="0.7"/>
<line x1="375.3" y1="265.3" x2="384.5" y2="265.3" stroke="#4a4a4a" stroke-width="0.91"/>
<circle cx="380.5" cy="265.2" r="1.3" fill="#ee6e63" stroke="#555" stroke-width="0.75"/>
<path d="M392.10 273 V276.4 M392.10 278.4 V279.2" stroke="#4a4a4a" stroke-width="0.7" fill="none"/>
<rect x="387.2" y="276.4" width="9.80" height="2.00" fill="#a9d5ec" stroke="#4a4a4a" stroke-width="0.7"/>
<line x1="387.2" y1="277.4" x2="397" y2="277.4" stroke="#4a4a4a" stroke-width="0.91"/>
<circle cx="391.5" cy="272.9" r="1.3" fill="#78c3ea" stroke="#555" stroke-width="0.75"/>
<circle cx="391.5" cy="279" r="1.3" fill="#78c3ea" stroke="#555" stroke-width="0.75"/>
<line x1="306.1" y1="257.5" x2="319.9" y2="257.5" stroke="#9c9c9c" stroke-width="0.9"/>
<line x1="329.3" y1="257.5" x2="342.9" y2="257.5" stroke="#9c9c9c" stroke-width="0.9"/>
<line x1="354.8" y1="257.5" x2="368.1" y2="257.5" stroke="#9c9c9c" stroke-width="0.9"/>
<line x1="378.8" y1="257.5" x2="392.2" y2="257.5" stroke="#9c9c9c" stroke-width="0.9"/>
<text x="313.4" y="255.4" font-size="7" text-anchor="middle" font-weight="normal" font-style="normal" fill="#333" stroke="#333" stroke-width="0.22" >ns</text>
<text x="336.1" y="255.4" font-size="7" text-anchor="middle" font-weight="normal" font-style="normal" fill="#333" stroke="#333" stroke-width="0.22" >ns</text>
<text x="361.2" y="255.4" font-size="7" text-anchor="middle" font-weight="normal" font-style="normal" fill="#333" stroke="#333" stroke-width="0.22" >ns</text>
<text x="374.8" y="255.7" font-size="6" text-anchor="start" font-weight="normal" font-style="normal" fill="#333" stroke="#333" stroke-width="0.22" textLength="25.2" lengthAdjust="spacingAndGlyphs" ><tspan font-style="italic">P</tspan> = 0.029</text>
<text x="411.1" y="158.3" font-size="14" text-anchor="start" font-weight="bold" font-style="normal" fill="#000" >D</text>
<text x="507.3" y="171.9" font-size="9.4" text-anchor="start" font-weight="bold" font-style="normal" fill="#000" textLength="56.9" lengthAdjust="spacingAndGlyphs" ><tspan font-style="italic">Dorea</tspan> phage</text>
<line x1="449.6" y1="173.1" x2="449.6" y2="286.8" stroke="#555" stroke-width="1.1"/>
<line x1="449.1" y1="286.3" x2="604" y2="286.3" stroke="#444" stroke-width="1.1"/>
<text x="426.7" y="179.8" font-size="8.7" text-anchor="start" font-weight="normal" font-style="normal" fill="#3a3a3a" stroke="#3a3a3a" stroke-width="0.22" textLength="21.0" lengthAdjust="spacingAndGlyphs" >0.100</text>
<line x1="448.2" y1="178.6" x2="449.6" y2="178.6" stroke="#555" stroke-width="0.6"/>
<text x="426.7" y="205.3" font-size="8.7" text-anchor="start" font-weight="normal" font-style="normal" fill="#3a3a3a" stroke="#3a3a3a" stroke-width="0.22" textLength="21.0" lengthAdjust="spacingAndGlyphs" >0.075</text>
<line x1="448.2" y1="204.1" x2="449.6" y2="204.1" stroke="#555" stroke-width="0.6"/>
<text x="426.7" y="230.9" font-size="8.7" text-anchor="start" font-weight="normal" font-style="normal" fill="#3a3a3a" stroke="#3a3a3a" stroke-width="0.22" textLength="21.0" lengthAdjust="spacingAndGlyphs" >0.050</text>
<line x1="448.2" y1="229.7" x2="449.6" y2="229.7" stroke="#555" stroke-width="0.6"/>
<text x="426.7" y="256.4" font-size="8.7" text-anchor="start" font-weight="normal" font-style="normal" fill="#3a3a3a" stroke="#3a3a3a" stroke-width="0.22" textLength="21.0" lengthAdjust="spacingAndGlyphs" >0.025</text>
<line x1="448.2" y1="255.2" x2="449.6" y2="255.2" stroke="#555" stroke-width="0.6"/>
<text x="426.7" y="281.9" font-size="8.7" text-anchor="start" font-weight="normal" font-style="normal" fill="#3a3a3a" stroke="#3a3a3a" stroke-width="0.22" textLength="21.0" lengthAdjust="spacingAndGlyphs" >0.000</text>
<line x1="448.2" y1="280.7" x2="449.6" y2="280.7" stroke="#555" stroke-width="0.6"/>
<text transform="translate(423.3 229) rotate(-90)" text-anchor="middle" font-size="9.5" font-weight="bold" textLength="106.5" lengthAdjust="spacingAndGlyphs">Relative abundance (%)</text>
<line x1="464.4" y1="286.2" x2="464.4" y2="288" stroke="#666" stroke-width="0.6"/>
<line x1="489.5" y1="286.2" x2="489.5" y2="288" stroke="#666" stroke-width="0.6"/>
<line x1="514.6" y1="286.2" x2="514.6" y2="288" stroke="#666" stroke-width="0.6"/>
<line x1="539.4" y1="286.2" x2="539.4" y2="288" stroke="#666" stroke-width="0.6"/>
<line x1="564.2" y1="286.2" x2="564.2" y2="288" stroke="#666" stroke-width="0.6"/>
<line x1="589" y1="286.2" x2="589" y2="288" stroke="#666" stroke-width="0.6"/>
<text x="458.9" y="297.1" font-size="8" text-anchor="start" font-weight="normal" font-style="normal" fill="#3a3a3a" stroke="#3a3a3a" stroke-width="0.22" textLength="22.7" lengthAdjust="spacingAndGlyphs" >Day−1</text>
<text x="485.1" y="297.1" font-size="8" text-anchor="start" font-weight="normal" font-style="normal" fill="#3a3a3a" stroke="#3a3a3a" stroke-width="0.22" textLength="18.7" lengthAdjust="spacingAndGlyphs" >Day0</text>
<text x="510.3" y="297.1" font-size="8" text-anchor="start" font-weight="normal" font-style="normal" fill="#3a3a3a" stroke="#3a3a3a" stroke-width="0.22" textLength="17.8" lengthAdjust="spacingAndGlyphs" >Day1</text>
<text x="534.8" y="297.1" font-size="8" text-anchor="start" font-weight="normal" font-style="normal" fill="#3a3a3a" stroke="#3a3a3a" stroke-width="0.22" textLength="18.4" lengthAdjust="spacingAndGlyphs" >Day2</text>
<text x="560.2" y="297.1" font-size="8" text-anchor="start" font-weight="normal" font-style="normal" fill="#3a3a3a" stroke="#3a3a3a" stroke-width="0.22" textLength="17.8" lengthAdjust="spacingAndGlyphs" >Day3</text>
<text x="584.9" y="297.1" font-size="8" text-anchor="start" font-weight="normal" font-style="normal" fill="#3a3a3a" stroke="#3a3a3a" stroke-width="0.22" textLength="18.4" lengthAdjust="spacingAndGlyphs" >Day4</text>
<text x="522.3" y="309.2" font-size="9.6" text-anchor="start" font-weight="bold" font-style="normal" fill="#000" textLength="21.5" lengthAdjust="spacingAndGlyphs" >Time</text>
<line x1="454" y1="280.8" x2="472.8" y2="280.8" stroke="#9a9a9a" stroke-width="1.2"/>
<circle cx="463.4" cy="280.8" r="1.7" fill="#b8b8b8" stroke="#2a2a2a" stroke-width="1.0"/>
<line x1="479" y1="280.8" x2="497.7" y2="280.8" stroke="#9a9a9a" stroke-width="1.2"/>
<circle cx="488.35" cy="280.8" r="1.7" fill="#b8b8b8" stroke="#2a2a2a" stroke-width="1.0"/>
<line x1="502.3" y1="280.8" x2="511.7" y2="280.8" stroke="#9a9a9a" stroke-width="1.2"/>
<circle cx="507.0" cy="280.8" r="1.7" fill="#ee6e63" stroke="#2a2a2a" stroke-width="1.0"/>
<line x1="527" y1="280.8" x2="535.8" y2="280.8" stroke="#9a9a9a" stroke-width="1.2"/>
<circle cx="531.4" cy="280.8" r="1.7" fill="#ee6e63" stroke="#2a2a2a" stroke-width="1.0"/>
<line x1="551.3" y1="280.8" x2="561" y2="280.8" stroke="#9a9a9a" stroke-width="1.2"/>
<circle cx="556.15" cy="280.8" r="1.7" fill="#ee6e63" stroke="#2a2a2a" stroke-width="1.0"/>
<line x1="576" y1="280.8" x2="585.5" y2="280.8" stroke="#9a9a9a" stroke-width="1.2"/>
<circle cx="580.75" cy="280.8" r="1.7" fill="#ee6e63" stroke="#2a2a2a" stroke-width="1.0"/>
<path d="M519.00 210.8 V210.8 M519.00 238.9 V238.9" stroke="#4a4a4a" stroke-width="0.7" fill="none"/>
<rect x="514.3" y="210.8" width="9.40" height="28.10" fill="#a9d5ec" stroke="#4a4a4a" stroke-width="0.7"/>
<line x1="514.3" y1="224.4" x2="523.7" y2="224.4" stroke="#4a4a4a" stroke-width="0.91"/>
<circle cx="517.5" cy="210.8" r="1.3" fill="#78c3ea" stroke="#555" stroke-width="0.75"/>
<circle cx="517.5" cy="237.5" r="1.3" fill="#78c3ea" stroke="#555" stroke-width="0.75"/>
<circle cx="517.5" cy="242.4" r="1.3" fill="#78c3ea" stroke="#555" stroke-width="0.75"/>
<circle cx="518.5" cy="239.5" r="1.3" fill="#78c3ea" stroke="#555" stroke-width="0.75"/>
<path d="M544.10 234.6 V234.6 M544.10 241.9 V241.9" stroke="#4a4a4a" stroke-width="0.7" fill="none"/>
<rect x="539.2" y="234.6" width="9.80" height="7.30" fill="#a9d5ec" stroke="#4a4a4a" stroke-width="0.7"/>
<line x1="539.2" y1="240.8" x2="549" y2="240.8" stroke="#4a4a4a" stroke-width="0.91"/>
<circle cx="543.6" cy="219.8" r="1.3" fill="#78c3ea" stroke="#555" stroke-width="0.75"/>
<circle cx="543.6" cy="240" r="1.3" fill="#78c3ea" stroke="#555" stroke-width="0.75"/>
<circle cx="543" cy="242" r="1.3" fill="#78c3ea" stroke="#555" stroke-width="0.75"/>
<path d="M568.45 201.1 V210.9 M568.45 222.2 V234.3" stroke="#4a4a4a" stroke-width="0.7" fill="none"/>
<rect x="563.2" y="210.9" width="10.50" height="11.30" fill="#a9d5ec" stroke="#4a4a4a" stroke-width="0.7"/>
<line x1="563.2" y1="216" x2="573.7" y2="216" stroke="#4a4a4a" stroke-width="0.91"/>
<circle cx="568.5" cy="201.1" r="1.3" fill="#78c3ea" stroke="#555" stroke-width="0.75"/>
<circle cx="568.2" cy="213.2" r="1.3" fill="#78c3ea" stroke="#555" stroke-width="0.75"/>
<circle cx="568.3" cy="218" r="1.3" fill="#78c3ea" stroke="#555" stroke-width="0.75"/>
<circle cx="568.2" cy="234.3" r="1.3" fill="#78c3ea" stroke="#555" stroke-width="0.75"/>
<path d="M593.15 271.3 V273.3 M593.15 277.6 V279.3" stroke="#4a4a4a" stroke-width="0.7" fill="none"/>
<rect x="588.4" y="273.3" width="9.50" height="4.30" fill="#a9d5ec" stroke="#4a4a4a" stroke-width="0.7"/>
<line x1="588.4" y1="275.5" x2="597.9" y2="275.5" stroke="#4a4a4a" stroke-width="0.91"/>
<circle cx="592.8" cy="271.5" r="1.3" fill="#78c3ea" stroke="#555" stroke-width="0.75"/>
<circle cx="592.3" cy="275.5" r="1.3" fill="#78c3ea" stroke="#555" stroke-width="0.75"/>
<circle cx="593.8" cy="274.2" r="1.3" fill="#78c3ea" stroke="#555" stroke-width="0.75"/>
<circle cx="592.8" cy="279.1" r="1.3" fill="#78c3ea" stroke="#555" stroke-width="0.75"/>
<line x1="505.7" y1="196.6" x2="518.7" y2="196.6" stroke="#333" stroke-width="0.9"/>
<line x1="531.3" y1="210.4" x2="544.5" y2="210.4" stroke="#333" stroke-width="0.9"/>
<line x1="558.4" y1="196.4" x2="572.1" y2="196.4" stroke="#333" stroke-width="0.9"/>
<line x1="580" y1="267.3" x2="593.8" y2="267.3" stroke="#333" stroke-width="0.9"/>
<text x="499.9" y="194.2" font-size="6" text-anchor="start" font-weight="normal" font-style="normal" fill="#333" stroke="#333" stroke-width="0.22" textLength="25.3" lengthAdjust="spacingAndGlyphs" ><tspan font-style="italic">P</tspan> = 0.016</text>
<text x="527" y="208.1" font-size="6" text-anchor="start" font-weight="normal" font-style="normal" fill="#333" stroke="#333" stroke-width="0.22" textLength="25.3" lengthAdjust="spacingAndGlyphs" ><tspan font-style="italic">P</tspan> = 0.016</text>
<text x="554" y="194.1" font-size="6" text-anchor="start" font-weight="normal" font-style="normal" fill="#333" stroke="#333" stroke-width="0.22" textLength="25.3" lengthAdjust="spacingAndGlyphs" ><tspan font-style="italic">P</tspan> = 0.016</text>
<text x="575.2" y="264.9" font-size="6" text-anchor="start" font-weight="normal" font-style="normal" fill="#333" stroke="#333" stroke-width="0.22" textLength="25.3" lengthAdjust="spacingAndGlyphs" ><tspan font-style="italic">P</tspan> = 0.008</text>
<line x1="622" y1="191.0" x2="622" y2="201.4" stroke="#999" stroke-width="0.8"/>
<rect x="617.2" y="193.0" width="9.6" height="6.4" fill="#dcdcdc" stroke="#6a6a6a" stroke-width="0.8"/>
<line x1="617.2" y1="196.2" x2="626.8" y2="196.2" stroke="#6a6a6a" stroke-width="0.7"/>
<circle cx="622" cy="196.2" r="1.7" fill="#c8c8c8" stroke="#666" stroke-width="0.7"/>
<line x1="622" y1="213.2" x2="622" y2="223.6" stroke="#999" stroke-width="0.8"/>
<rect x="617.2" y="215.2" width="9.6" height="6.4" fill="#f4a49c" stroke="#6a6a6a" stroke-width="0.8"/>
<line x1="617.2" y1="218.4" x2="626.8" y2="218.4" stroke="#6a6a6a" stroke-width="0.7"/>
<circle cx="622" cy="218.4" r="1.7" fill="#ee6e63" stroke="#666" stroke-width="0.7"/>
<line x1="622" y1="236.9" x2="622" y2="247.3" stroke="#999" stroke-width="0.8"/>
<rect x="617.2" y="238.9" width="9.6" height="6.4" fill="#a9d5ec" stroke="#6a6a6a" stroke-width="0.8"/>
<line x1="617.2" y1="242.1" x2="626.8" y2="242.1" stroke="#6a6a6a" stroke-width="0.7"/>
<circle cx="622" cy="242.1" r="1.7" fill="#78c3ea" stroke="#666" stroke-width="0.7"/>
<text x="631.8" y="199" font-size="8" text-anchor="start" font-weight="normal" font-style="italic" fill="#111" stroke="#111" stroke-width="0.22" textLength="53.2" lengthAdjust="spacingAndGlyphs" >D. longicatena</text>
<text x="631.8" y="216.7" font-size="8" text-anchor="start" font-weight="normal" font-style="italic" fill="#111" stroke="#111" stroke-width="0.22" textLength="53.2" lengthAdjust="spacingAndGlyphs" >D. longicatena</text>
<text x="631.8" y="240" font-size="8" text-anchor="start" font-weight="normal" font-style="italic" fill="#111" stroke="#111" stroke-width="0.22" textLength="53.2" lengthAdjust="spacingAndGlyphs" >D. longicatena</text>
<text x="632.2" y="226.4" font-size="8" text-anchor="start" font-weight="normal" font-style="normal" fill="#111" stroke="#111" stroke-width="0.22" textLength="30.2" lengthAdjust="spacingAndGlyphs" >+vehicle</text>
<text x="632.2" y="249.5" font-size="8" text-anchor="start" font-weight="normal" font-style="normal" fill="#111" stroke="#111" stroke-width="0.22" textLength="27" lengthAdjust="spacingAndGlyphs" >+phage</text>
</svg></body></html>
